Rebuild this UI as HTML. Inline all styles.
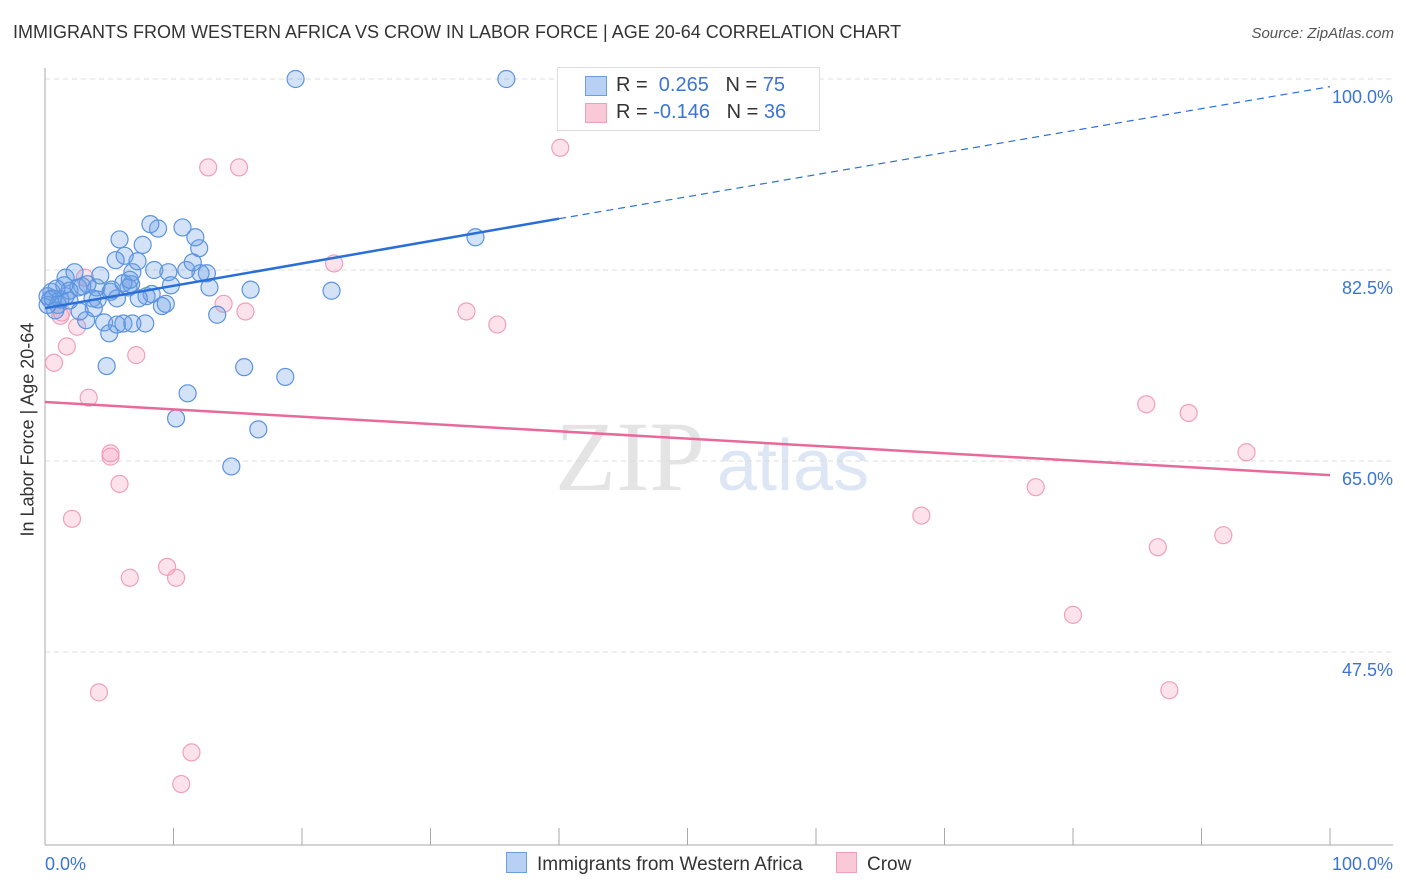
<!DOCTYPE html>
<html><head><meta charset="utf-8"><style>
body{margin:0;background:#fff;font-family:"Liberation Sans",sans-serif;}
#wrap{position:relative;width:1406px;height:892px;overflow:hidden;}
.t{position:absolute;white-space:nowrap;}
</style></head><body>
<div id="wrap">
<div class="t" style="left:13px;top:22px;font-size:18px;color:#333;">IMMIGRANTS FROM WESTERN AFRICA VS CROW IN LABOR FORCE | AGE 20-64 CORRELATION CHART</div>
<div class="t" style="right:12px;top:25px;font-size:15px;color:#555;font-style:italic;">Source: ZipAtlas.com</div>
<div class="t" style="left:-52px;top:446px;font-size:18px;color:#333;transform:rotate(-90deg);width:160px;text-align:center;">In Labor Force | Age 20-64</div>
<svg id="plot" width="1406" height="892" style="position:absolute;left:0;top:0"></svg>
<div style="position:absolute;left:557px;top:67px;width:261px;height:62px;border:1px solid #ddd;background:#fff;font-size:20px;">
 <div style="position:absolute;left:27px;top:8px;width:20px;height:18px;background:#b8d0f4;border:1px solid #6a9fe0;"></div>
 <div class="t" style="left:58px;top:6px;color:#333;">R = &nbsp;<span style="color:#3b74d6">0.265</span> &nbsp;&nbsp;N = <span style="color:#3b74d6">75</span></div>
 <div style="position:absolute;left:27px;top:35px;width:20px;height:18px;background:#f9c9d8;border:1px solid #f0a0bb;"></div>
 <div class="t" style="left:58px;top:33px;color:#333;">R = <span style="color:#3b74d6">-0.146</span> &nbsp;&nbsp;N = <span style="color:#3b74d6">36</span></div>
</div>
<div style="position:absolute;left:506px;top:852px;font-size:19px;color:#333;">
 <span><span style="display:inline-block;width:19px;height:19px;background:#b8d0f4;border:1px solid #6a9fe0;vertical-align:-3px;margin-right:10px;"></span>Immigrants from Western Africa</span>
 <span style="margin-left:28px;"><span style="display:inline-block;width:19px;height:19px;background:#f9c9d8;border:1px solid #f0a0bb;vertical-align:-3px;margin-right:10px;"></span>Crow</span>
</div>
</div>
<script>
const blueX=[19.5,35.9,33.5,22.3,16.0,15.5,18.7,11.1,10.2,16.6,14.5,13.4,12.8,12.6,12.1,12.0,11.7,10.7,8.8,8.2,7.6,5.8,6.2,7.2,5.5,6.8,6.7,8.5,9.6,9.8,11.0,11.5,9.1,9.4,8.3,7.9,7.3,6.5,5.1,5.6,4.0,4.1,3.7,3.8,4.6,5.0,5.6,6.1,6.8,7.8,4.8,3.2,2.7,1.9,1.6,1.0,0.5,0.4,0.8,0.2,1.6,2.3,2.6,3.3,2.9,1.9,1.2,1.5,4.3,5.2,6.1,6.6,0.2,0.6,0.9];
const blueY=[100,100,85.5,80.6,80.7,73.6,72.7,71.2,68.9,67.9,64.5,78.4,80.9,82.2,82.2,84.5,85.5,86.4,86.3,86.7,84.8,85.3,83.8,83.3,83.4,82.3,81.2,82.5,82.3,81.1,82.5,83.2,79.2,79.4,80.3,80.1,79.9,80.9,80.5,79.9,80.9,79.8,79.9,79.0,77.7,76.7,77.5,77.6,77.6,77.6,73.7,77.9,78.7,79.7,80.1,79.3,80.5,79.8,78.8,79.3,81.8,82.3,80.9,81.2,81.0,80.6,79.8,81.1,82.0,80.7,81.3,81.6,80.1,79.9,80.8];
const pinkX=[56.4,40.1,12.7,15.1,22.5,13.9,15.6,32.8,35.2,1.3,2.5,1.7,7.1,0.7,3.4,5.1,5.1,5.8,2.1,6.6,9.5,10.2,4.2,11.4,10.6,85.7,89.0,93.5,77.1,68.2,86.6,91.7,80.0,87.5,3.1,1.2];
const pinkY=[100,93.7,91.9,91.9,83.1,79.4,78.7,78.7,77.5,78.6,77.3,75.5,74.7,74.0,70.8,65.7,65.4,62.9,59.7,54.3,55.3,54.3,43.8,38.3,35.4,70.2,69.4,65.8,62.6,60.0,57.1,58.2,50.9,44.0,81.8,78.3];
const blueTrendX=[0,40,100];
const blueTrendY=[79.0,87.2,99.3];
const pinkTrendX=[0,100];
const pinkTrendY=[70.4,63.7];
const yTicks=[100,82.5,65,47.5];
const yTickLabels=["100.0%","82.5%","65.0%","47.5%"];
const xTickLabels=["0.0%","100.0%"];

const X=v=>45+v*12.85;
const Y=v=>79+(100-v)*10.914;
const svg=document.getElementById('plot');
const NS='http://www.w3.org/2000/svg';
function mk(tag,attrs){const e=document.createElementNS(NS,tag);for(const k in attrs)e.setAttribute(k,attrs[k]);svg.appendChild(e);return e;}

// watermark
let wm=mk('text',{x:555,y:490,'font-size':100,'font-family':'Liberation Serif,serif',fill:'#e4e4e4'});


wm.textContent='ZIP';
let wm2=mk('text',{x:717,y:490,'font-size':72,'font-family':'Liberation Sans,sans-serif',fill:'#dde6f5'});


wm2.textContent='atlas';

yTicks.forEach((v,i)=>{
 let g=mk('line',{x1:45,x2:1393,y1:Y(v),y2:Y(v),stroke:'#dcdcdc','stroke-dasharray':'5,4'});
 
 
 let t=mk('text',{x:1393,y:Y(v)+24,'text-anchor':'end','font-size':18,fill:'#3b74d6','font-family':'Liberation Sans,sans-serif'});
 
 
 t.textContent=yTickLabels[i];
});
let ax=mk('line',{x1:45,x2:45,y1:68,y2:845,stroke:'#aaa'});


let bx=mk('line',{x1:45,x2:1393,y1:845,y2:845,stroke:'#aaa'});


for(let i=0;i<=10;i++){
 let tk=mk('line',{x1:X(i*10),x2:X(i*10),y1:828,y2:845,stroke:'#aaa'});
 
 
}
[[0,'start',45],[100,'end',1393]].forEach((a,i)=>{
 let t=mk('text',{x:a[2],y:870,'text-anchor':a[1],'font-size':18,fill:'#3b74d6','font-family':'Liberation Sans,sans-serif'});
 
 
 t.textContent=xTickLabels[i];
});

pinkX.forEach((x,i)=>{
 let c=mk('circle',{cx:X(x),cy:Y(pinkY[i]),r:8.5,fill:'rgba(244,160,190,0.3)',stroke:'#f0a0bb','stroke-width':1.2});
 
 
});
blueX.forEach((x,i)=>{
 let c=mk('circle',{cx:X(x),cy:Y(blueY[i]),r:8.5,fill:'rgba(110,160,230,0.3)',stroke:'#5b93e0','stroke-width':1.2});
 
 
});
let bl=mk('line',{x1:X(blueTrendX[0]),y1:Y(blueTrendY[0]),x2:X(blueTrendX[1]),y2:Y(blueTrendY[1]),stroke:'#2a6fd8','stroke-width':2.5});


let bd=mk('line',{x1:X(blueTrendX[1]),y1:Y(blueTrendY[1]),x2:X(blueTrendX[2]),y2:Y(blueTrendY[2]),stroke:'#2a6fd8','stroke-width':1.2,'stroke-dasharray':'7,5'});


let pl=mk('line',{x1:X(pinkTrendX[0]),y1:Y(pinkTrendY[0]),x2:X(pinkTrendX[1]),y2:Y(pinkTrendY[1]),stroke:'#e8699a','stroke-width':2.5});


</script>
</body></html>
